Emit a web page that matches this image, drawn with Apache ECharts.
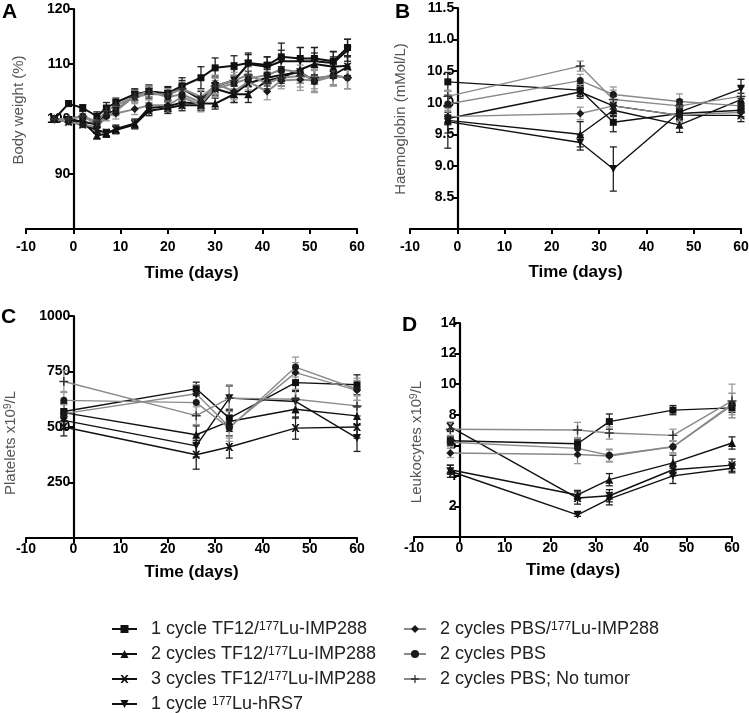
<!DOCTYPE html>
<html><head><meta charset="utf-8">
<script src="https://cdn.jsdelivr.net/npm/echarts@6/dist/echarts.min.js"></script>
<style>html,body{margin:0;padding:0;background:#fff}#c{width:749px;height:713px}</style>
</head><body><div id="c"></div>
<script>
// ---------- DATA ----------
const seriesNames = [
  '1 cycle TF12/177Lu-IMP288',
  '2 cycles TF12/177Lu-IMP288',
  '3 cycles TF12/177Lu-IMP288',
  '1 cycle 177Lu-hRS7',
  '2 cycles PBS/177Lu-IMP288',
  '2 cycles PBS',
  '2 cycles PBS; No tumor'
];
const legendLabels = [
  '1 cycle TF12/{sup|177}Lu-IMP288',
  '2 cycles TF12/{sup|177}Lu-IMP288',
  '3 cycles TF12/{sup|177}Lu-IMP288',
  '1 cycle {sup|177}Lu-hRS7',
  '2 cycles PBS/{sup|177}Lu-IMP288',
  '2 cycles PBS',
  '2 cycles PBS; No tumor'
];
const yTitles = ['Body weight (%)', 'Haemoglobin (mMol/L)', 'Platelets x10{sup|9}/L', 'Leukocytes x10{sup|9}/L'];
const xTitle = 'Time (days)';
const panelLetters = ['A', 'B', 'C', 'D'];

// Panel A: body weight (%)
const timeA = [-4,-1,2,5,7,9,13,16,20,23,27,30,34,37,41,44,48,51,55,58];
const bwSq = [100,102.8,102,100.5,102,103,104.5,105,104.7,106,107.5,109.3,109.7,110.2,109.8,111.3,111,111,110.5,113];
const bwTu = [100,100,99.5,97,97.3,98.2,99.2,102,102.3,103,102.8,102.8,104.5,104.5,107,107.5,109,110,109.5,109.7];
const bwX  = [100,99.5,99,98,97.5,98,99,101.5,102,102.5,102.5,105.5,104.5,106.5,107.5,108,108.5,107,108,109.5];
const bwTd = [100,99.8,99.5,99,101,101.5,104.3,105,104.5,105.5,103.5,106,107,110,109.5,110.5,110.5,110.5,110.2,112.5];
const bwDi = [100,99.5,99,98.5,100.5,101,101.8,102.5,102.5,104,102.5,106.5,105,106.8,105,107,107.2,107,108,107.5];
const bwCi = [100,100,100.5,99,100.5,101.5,104.2,105,104,104.5,103,105.5,106.5,107.3,108,109,108.5,106.8,107.8,107.5];
const bwPl = [100,100,100.5,99.5,101.5,102.5,104,104.5,104.5,105.5,104,106,107,108,106.5,107.5,107.8,107.5,107.8,107.5];
const bwSqE = [0.3,0.5,0.6,0.8,1,0.8,1,1,1.2,1.5,2,1.8,1.8,1.5,1.5,2.5,2,2,1.8,1.5];
const bwTuE = [0.3,0.4,0.5,0.6,0.6,0.7,0.8,0.9,1,1,1,1,1.5,1.5,1.5,1.5,2,2,1.8,1.8];
const bwXE  = [0.3,0.4,0.5,0.6,0.6,0.7,0.8,0.9,1,1,1,1,1.5,1.5,1.5,1.5,2,2,1.8,1.8];
const bwTdE = [0.3,0.4,0.5,0.6,0.7,0.7,1,1.2,1.2,1.5,1.5,1.8,2,2,1.8,2,2.5,2.5,2,2];
const bwDiE = [0.3,0.4,0.5,0.6,0.8,1,1,1,1,1.2,1.2,1.5,1.5,1.5,1.5,1.5,2,2,1.8,2];
const bwCiE = [0.3,0.4,0.5,0.6,0.8,0.9,1,1,1,1.2,1.2,1.5,1.5,1.5,1.5,1.5,2,2,1.8,2];
const bwPlE = [0.3,0.4,0.5,0.6,0.8,0.9,1,1,1,1.2,1.2,1.5,1.5,1.5,1.5,1.5,2,2,1.8,2];

// Panels B-D share the blood sampling days
const timeBlood = [-2,26,33,47,60];

// Panel B: haemoglobin (mMol/L)
const hbSq = [10.33,10.2,9.69,9.83,9.88];
const hbTu = [9.72,9.5,9.88,9.65,10.05];
const hbX  = [9.75,10.17,9.95,9.8,9.8];
const hbTd = [9.7,9.37,8.95,9.85,10.22];
const hbDi = [9.78,9.83,9.95,9.8,9.85];
const hbCi = [9.98,10.35,10.13,10.02,9.95];
const hbPl = [10.1,10.58,10.05,9.95,10.1];
const hbSqE = [0.15,0.1,0.15,0.1,0.1];
const hbTuE = [0.2,0.2,0.1,0.12,0.1];
const hbXE  = [0.1,0.1,0.15,0.1,0.1];
const hbTdE = [0.42,0.12,0.35,0.12,0.15];
const hbDiE = [0.1,0.1,0.1,0.1,0.1];
const hbCiE = [0.2,0.1,0.12,0.12,0.1];
const hbPlE = [0.1,0.08,0.15,0.1,0.15];

// Panel C: platelets x10^9/L
const plSq = [570,672,540,700,690];
const plTu = [565,465,525,580,550];
const plX  = [500,375,410,495,500];
const plTd = [530,415,630,615,450];
const plDi = [560,650,500,745,665];
const plCi = [620,610,495,770,670];
const plPl = [705,551,630,625,595];
const plSqE = [40,30,40,40,45];
const plTuE = [40,40,45,40,40];
const plXE  = [40,65,50,50,50];
const plTdE = [40,50,55,50,60];
const plDiE = [40,40,50,45,45];
const plCiE = [40,50,60,45,50];
const plPlE = [50,40,60,45,45];

// Panel D: leukocytes x10^9/L
const lkSq = [6.3,6.1,7.55,8.3,8.45];
const lkTu = [4.4,2.75,3.75,4.85,6.15];
const lkX  = [7.2,2.55,2.7,4.4,4.7];
const lkTd = [4.3,1.45,2.5,4.0,4.5];
const lkDi = [5.5,5.4,5.3,5.9,8.6];
const lkCi = [6.2,5.8,5.35,5.9,8.7];
const lkPl = [7.05,7.0,6.8,6.65,8.9];
const lkSqE = [0.3,0.3,0.5,0.3,0.3];
const lkTuE = [0.3,0.3,0.4,0.5,0.4];
const lkXE  = [0.3,0.4,0.4,0.4,0.4];
const lkTdE = [0.4,0.1,0.4,0.5,0.3];
const lkDiE = [0.3,0.6,0.4,0.4,0.8];
const lkCiE = [0.3,0.5,0.4,0.4,0.7];
const lkPlE = [0.4,0.5,0.4,0.4,1.1];

// ---------- STYLE ----------
const FONT = 'Liberation Sans, Arial, sans-serif';
const symX = 'path://M0,0 L2.5,0 L5,3.2 L7.5,0 L10,0 L6.4,5 L10,10 L7.5,10 L5,6.8 L2.5,10 L0,10 L3.6,5 Z';
const symTd = 'path://M0,0 L10,0 L5,9 Z';
const symPl = 'path://M4.2,0 L5.8,0 L5.8,4.2 L10,4.2 L10,5.8 L5.8,5.8 L5.8,10 L4.2,10 L4.2,5.8 L0,5.8 L0,4.2 L4.2,4.2 Z';
const symbols = ['rect','triangle',symX,symTd,'diamond','circle',symPl];
const symSizes = [7,8,8,8,8,7,9];
const lineColors = ['#111','#111','#111','#111','#8a8a8a','#8a8a8a','#8a8a8a'];
const markColors = ['#111','#111','#111','#111','#1a1a1a','#1a1a1a','#333'];
const errColors = ['#222','#222','#222','#222','#999','#999','#999'];

const panels = [
  {t: timeA, v: [bwSq,bwTu,bwX,bwTd,bwDi,bwCi,bwPl], e: [bwSqE,bwTuE,bwXE,bwTdE,bwDiE,bwCiE,bwPlE], lw: 2},
  {t: timeBlood, v: [hbSq,hbTu,hbX,hbTd,hbDi,hbCi,hbPl], e: [hbSqE,hbTuE,hbXE,hbTdE,hbDiE,hbCiE,hbPlE], lw: 1.4},
  {t: timeBlood, v: [plSq,plTu,plX,plTd,plDi,plCi,plPl], e: [plSqE,plTuE,plXE,plTdE,plDiE,plCiE,plPlE], lw: 1.4},
  {t: timeBlood, v: [lkSq,lkTu,lkX,lkTd,lkDi,lkCi,lkPl], e: [lkSqE,lkTuE,lkXE,lkTdE,lkDiE,lkCiE,lkPlE], lw: 1.4}
];

const X_MIN = -10, X_MAX = 60;
const grids = [
  {left: 26, width: 331, top: 9, height: 220},
  {left: 410, width: 331, top: 8, height: 221},
  {left: 26, width: 331, top: 316, height: 222},
  {left: 414, width: 318, top: 323, height: 214}
];
const xLabelMargin = [11, 11, 4, 4];
const xNameGap = [36, 35, 26, 25];
const yCfg = [
  {min: 80, max: 120, interval: 10, dec: 0},
  {min: 8, max: 11.5, interval: 0.5, dec: 1},
  {min: 0, max: 1000, interval: 250, dec: 0},
  {min: 0, max: 14, interval: 2, dec: 0}
];
const yTitlePos = [[19, 110], [401, 119], [11, 443], [417, 442]];
const letterPos = [[2, 2], [395, 2], [1, 307], [402, 315]];

const xAxes = grids.map((g, i) => ({
  type: 'value', gridIndex: i, min: X_MIN, max: X_MAX, interval: 10,
  splitLine: {show: false},
  axisLine: {onZero: false, lineStyle: {color: '#000', width: 2.2}},
  axisTick: {show: true, length: 5, lineStyle: {color: '#000', width: 2}},
  axisLabel: {color: '#000', fontFamily: FONT, fontWeight: 'bold', fontSize: 14, margin: xLabelMargin[i]},
  name: xTitle, nameLocation: 'middle', nameGap: xNameGap[i],
  nameTextStyle: {color: '#000', fontFamily: FONT, fontWeight: 'bold', fontSize: 17}
}));
// the y axis crosses the x axis at day 0: shift it inward from the grid's left edge
const yAxes = yCfg.map((c, i) => ({
  type: 'value', gridIndex: i, min: c.min, max: c.max, interval: c.interval,
  offset: -grids[i].width * (0 - X_MIN) / (X_MAX - X_MIN),
  splitLine: {show: false},
  axisLine: {onZero: false, lineStyle: {color: '#000', width: 2.2}},
  axisTick: {show: true, length: 5, lineStyle: {color: '#000', width: 2}},
  axisLabel: {color: '#000', fontFamily: FONT, fontWeight: 'bold', fontSize: 14, margin: 3,
    showMinLabel: false, formatter: v => v.toFixed(c.dec)}
}));

const series = [];
panels.forEach((p, pi) => {
  p.v.forEach((vals, si) => {
    const data = p.t.map((t, k) => [t, vals[k]]);
    const edata = p.t.map((t, k) => [t, vals[k], p.e[si][k]]);
    series.push({
      type: 'custom', xAxisIndex: pi, yAxisIndex: pi, z: 1, silent: true,
      data: edata,
      renderItem: (params, api) => {
        const x = api.value(0), y = api.value(1), e = api.value(2);
        const a = api.coord([x, y + e]), b = api.coord([x, y - e]);
        const w = 3.5;
        const st = {stroke: errColors[si], lineWidth: 1.3};
        return {type: 'group', children: [
          {type: 'line', shape: {x1: a[0], y1: a[1], x2: b[0], y2: b[1]}, style: st},
          {type: 'line', shape: {x1: a[0]-w, y1: a[1], x2: a[0]+w, y2: a[1]}, style: st},
          {type: 'line', shape: {x1: b[0]-w, y1: b[1], x2: b[0]+w, y2: b[1]}, style: st}
        ]};
      }
    });
    series.push({
      type: 'line', name: seriesNames[si], xAxisIndex: pi, yAxisIndex: pi, z: 3,
      data: data, symbol: symbols[si], symbolSize: symSizes[si], showSymbol: true,
      lineStyle: {color: lineColors[si], width: p.lw},
      itemStyle: {color: markColors[si]},
      emphasis: {disabled: true}, animation: false
    });
  });
});

const legendBase = {
  orient: 'vertical', itemGap: 7, itemHeight: 10, padding: 0, height: 140,
  selectedMode: false,
  formatter: name => legendLabels[seriesNames.indexOf(name)],
  textStyle: {color: '#222', fontFamily: FONT, fontSize: 18, lineHeight: 16, padding: [0,0,0,9],
    rich: {sup: {fontSize: 12, fontFamily: FONT, color: '#222', verticalAlign: 'top', lineHeight: 10}}}
};

const graphics = [];
yTitles.forEach((t, i) => {
  graphics.push({type: 'text', x: yTitlePos[i][0], y: yTitlePos[i][1], rotation: Math.PI / 2,
    style: {text: t, fill: '#555', font: '15px ' + FONT, align: 'center', verticalAlign: 'middle',
      rich: {sup: {fontSize: 10, fill: '#555', fontFamily: FONT, verticalAlign: 'top', lineHeight: 10}}}});
});
panelLetters.forEach((t, i) => {
  graphics.push({type: 'text', x: letterPos[i][0], y: letterPos[i][1],
    style: {text: t, fill: '#000', font: 'bold 21px ' + FONT, align: 'left', verticalAlign: 'top'}});
});

const option = {
  animation: false,
  backgroundColor: '#fff',
  grid: grids.map(g => Object.assign({containLabel: false, outerBoundsMode: 'none'}, g)),
  xAxis: xAxes,
  yAxis: yAxes,
  graphic: graphics,
  legend: [
    Object.assign({}, legendBase, {left: 111, top: 620, itemWidth: 25, data: seriesNames.slice(0, 4)}),
    Object.assign({}, legendBase, {left: 403, top: 620, itemWidth: 22, data: seriesNames.slice(4)})
  ],
  series: series
};

const chart = echarts.init(document.getElementById('c'), null, {renderer: 'canvas'});
chart.setOption(option);
</script></body></html>
